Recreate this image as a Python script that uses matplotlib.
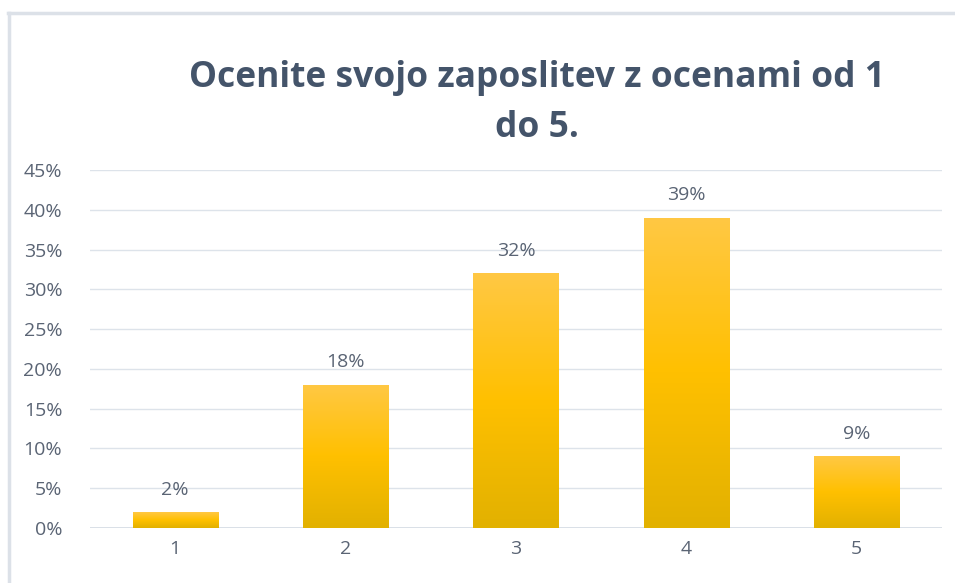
import matplotlib
matplotlib.use("Agg")
import matplotlib.pyplot as plt
import numpy as np
from matplotlib.colors import LinearSegmentedColormap
from matplotlib.lines import Line2D

categories = ["1", "2", "3", "4", "5"]
values = [0.02, 0.18, 0.32, 0.39, 0.09]
labels = ["2%", "18%", "32%", "39%", "9%"]
yticks = [0, 0.05, 0.10, 0.15, 0.20, 0.25, 0.30, 0.35, 0.40, 0.45]
ytick_labels = ["0%", "5%", "10%", "15%", "20%", "25%", "30%", "35%", "40%", "45%"]
title = "Ocenite svojo zaposlitev z ocenami od 1\ndo 5."

plt.rcParams['font.family'] = ['Open Sans', 'DejaVu Sans']

fig = plt.figure(figsize=(9.55, 5.83), dpi=100)
fig.patch.set_facecolor("white")

# chart frame (top and left edges visible)
fig.add_artist(Line2D([8/955, 1.0], [1 - 13/583, 1 - 13/583], color="#DCE1E8", lw=2.5, transform=fig.transFigure))
fig.add_artist(Line2D([9/955, 9/955], [0, 1 - 13/583], color="#DCE1E8", lw=2.5, transform=fig.transFigure))

ax = fig.add_axes([90/955, 1 - 528/583, (942 - 90)/955, (528 - 170)/583])
x = np.arange(len(categories))

cmap = LinearSegmentedColormap.from_list("g", ["#E2B100", "#FFC000", "#FFC844"])
grad = np.linspace(0, 1, 256).reshape(-1, 1)
bars = ax.bar(x, values, width=0.5, color="none", edgecolor="none", zorder=3)
for b in bars:
    x0, y0 = b.get_x(), b.get_y()
    w, h = b.get_width(), b.get_height()
    im = ax.imshow(grad, cmap=cmap, aspect="auto", origin="lower",
                   extent=[x0, x0 + w, y0, y0 + h], zorder=3)
    im.set_clip_path(b)

ax.set_xlim(-0.5, len(categories) - 0.5)
ax.set_ylim(0, 0.45)

txt_color = "#5A6474"
for xi, v, lab in zip(x, values, labels):
    ax.text(xi, v + 0.017, lab, ha="center", va="bottom", fontsize=14, color=txt_color)

ax.set_yticks(yticks)
ax.set_yticklabels(ytick_labels)
ax.set_xticks(x)
ax.set_xticklabels(categories)
ax.tick_params(axis="both", length=0, labelsize=14, labelcolor=txt_color)
ax.tick_params(axis="y", pad=20)
ax.tick_params(axis="x", pad=9)
ax.grid(axis="y", color="#DDE3EA", lw=1, zorder=0)
ax.set_axisbelow(True)
for s in ax.spines.values():
    s.set_visible(False)
ax.axhline(0, color="#D5DCE4", lw=1.2, zorder=2)

fig.text(537/955, 1 - 103/583, title, ha="center", va="center", fontsize=25.5,
         fontweight="bold", color="#44546A", linespacing=1.55)

fig.savefig("out.png", dpi=100)
